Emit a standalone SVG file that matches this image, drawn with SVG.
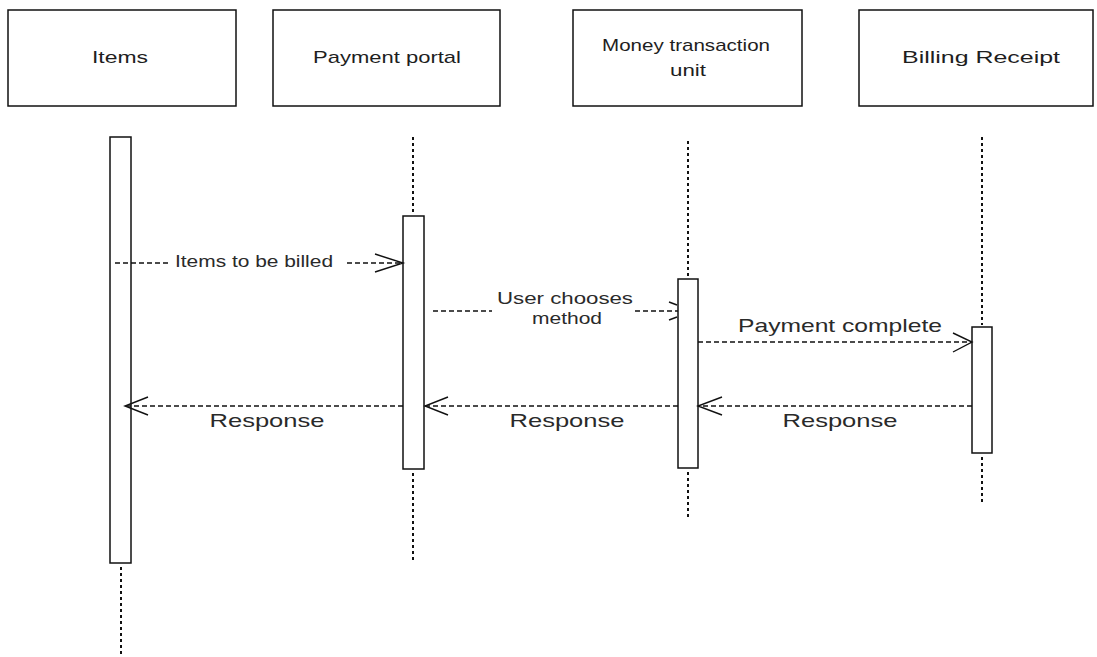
<svg xmlns="http://www.w3.org/2000/svg" width="1097" height="657" viewBox="0 0 1097 657">
  <defs>
    <style>
      .box { fill: #ffffff; stroke: #111; stroke-width: 1.5; }
      .act { fill: #ffffff; stroke: #111; stroke-width: 1.5; }
      .life { stroke: #111; stroke-width: 2; stroke-dasharray: 3 3; fill: none; }
      .msg { stroke: #111; stroke-width: 1.3; stroke-dasharray: 5 3; fill: none; }
      .head { stroke: #111; stroke-width: 1.4; fill: none; }
      .title { font-family: "Liberation Sans", Arial, sans-serif; font-size: 17px; fill: #1e1e1e; text-anchor: middle; }
      .lbl { font-family: "Liberation Sans", Arial, sans-serif; fill: #2a2a2a; text-anchor: middle; }
    </style>
  </defs>
  <rect width="1097" height="657" fill="#ffffff"/>

  <!-- participant: Items -->
  <g id="items">
    <rect class="box" x="8" y="10" width="228" height="96"/>
    <text class="title" x="120" y="63" textLength="56" lengthAdjust="spacingAndGlyphs">Items</text>
    <line class="life" x1="121" y1="567" x2="121" y2="657"/>
    <rect class="act" x="110" y="137" width="21" height="426"/>
  </g>

  <!-- participant: Payment portal -->
  <g id="payment-portal">
    <rect class="box" x="273" y="10" width="227" height="96"/>
    <text class="title" x="387" y="63" textLength="148" lengthAdjust="spacingAndGlyphs">Payment portal</text>
    <line class="life" x1="413" y1="137" x2="413" y2="214"/>
    <line class="life" x1="413" y1="473" x2="413" y2="563"/>
    <rect class="act" x="403" y="216" width="21" height="253"/>
  </g>

  <!-- participant: Money transaction unit -->
  <g id="money-transaction-unit">
    <rect class="box" x="573" y="10" width="229" height="96"/>
    <text class="title" x="686" y="51" textLength="168" lengthAdjust="spacingAndGlyphs">Money transaction</text>
    <text class="title" x="688" y="76" textLength="36" lengthAdjust="spacingAndGlyphs">unit</text>
    <line class="life" x1="688" y1="141" x2="688" y2="277"/>
    <line class="life" x1="688" y1="472" x2="688" y2="518"/>
    <rect class="act" x="678" y="279" width="20" height="189"/>
  </g>

  <!-- participant: Billing Receipt -->
  <g id="billing-receipt">
    <rect class="box" x="859" y="10" width="234" height="96"/>
    <text class="title" x="981" y="63" textLength="158" lengthAdjust="spacingAndGlyphs">Billing Receipt</text>
    <line class="life" x1="982" y1="137" x2="982" y2="325"/>
    <line class="life" x1="982" y1="457" x2="982" y2="502"/>
    <rect class="act" x="972" y="327" width="20" height="126"/>
  </g>

  <!-- messages -->
  <g id="connectors">
    <!-- Items to be billed -->
    <line class="msg" x1="115" y1="263" x2="171" y2="263"/>
    <line class="msg" x1="347" y1="263" x2="403" y2="263"/>
    <polyline class="head" points="375,254 403,263 375,272"/>
    <text class="lbl" x="254" y="267" font-size="16" textLength="158" lengthAdjust="spacingAndGlyphs">Items to be billed</text>

    <!-- User chooses method -->
    <line class="msg" x1="433" y1="311" x2="492" y2="311"/>
    <line class="msg" x1="635" y1="311" x2="678" y2="311"/>
    <line class="head" x1="669" y1="302" x2="677" y2="305"/>
    <line class="head" x1="669" y1="320" x2="677" y2="317"/>
    <text class="lbl" x="565" y="304" font-size="16" textLength="136" lengthAdjust="spacingAndGlyphs">User chooses</text>
    <text class="lbl" x="567" y="324" font-size="16" textLength="70" lengthAdjust="spacingAndGlyphs">method</text>

    <!-- Payment complete -->
    <line class="msg" x1="698" y1="342" x2="972" y2="342"/>
    <polyline class="head" points="953,333 972,342 953,352"/>
    <text class="lbl" x="840" y="332" font-size="19" textLength="204" lengthAdjust="spacingAndGlyphs">Payment complete</text>

    <!-- Response: Billing Receipt to Money transaction unit -->
    <line class="msg" x1="972" y1="406" x2="698" y2="406"/>
    <polyline class="head" points="722,397 698,406 722,415"/>
    <text class="lbl" x="840" y="427" font-size="19" textLength="115" lengthAdjust="spacingAndGlyphs">Response</text>

    <!-- Response: Money transaction unit to Payment portal -->
    <line class="msg" x1="678" y1="406" x2="425" y2="406"/>
    <polyline class="head" points="448,397 425,406 448,415"/>
    <text class="lbl" x="567" y="427" font-size="19" textLength="115" lengthAdjust="spacingAndGlyphs">Response</text>

    <!-- Response: Payment portal to Items -->
    <line class="msg" x1="403" y1="406" x2="125" y2="406"/>
    <polyline class="head" points="148,397 125,406 148,415"/>
    <text class="lbl" x="267" y="427" font-size="19" textLength="115" lengthAdjust="spacingAndGlyphs">Response</text>
  </g>
</svg>
